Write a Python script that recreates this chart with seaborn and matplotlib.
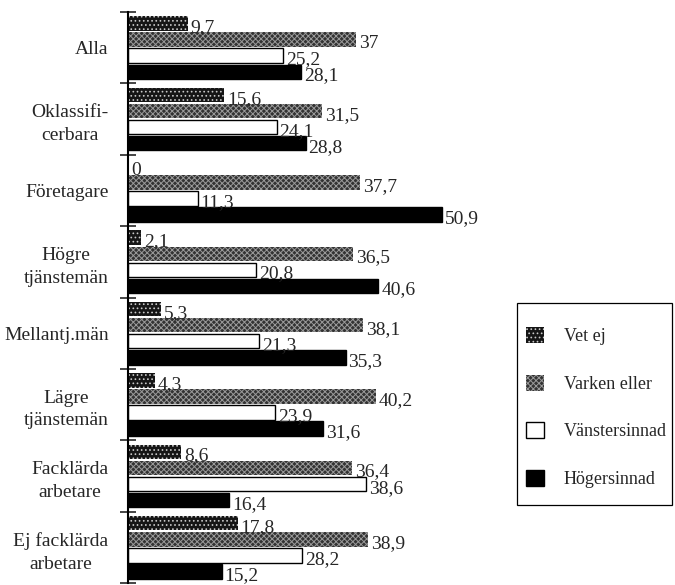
import numpy as np
import pandas as pd
import matplotlib
matplotlib.use("Agg")
import matplotlib.pyplot as plt
from matplotlib.patches import Rectangle
import seaborn as sns

# Kategorier och värden (procent)
kategorier = ['Alla', 'Oklassifi-\ncerbara', 'Företagare', 'Högre\ntjänstemän',
              'Mellantj.män', 'Lägre\ntjänstemän', 'Facklärda\narbetare',
              'Ej facklärda\narbetare']
serier = ['Vet ej', 'Varken eller', 'Vänstersinnad', 'Högersinnad']

vet_ej = [9.7, 15.6, 0, 2.1, 5.3, 4.3, 8.6, 17.8]
varken_eller = [37, 31.5, 37.7, 36.5, 38.1, 40.2, 36.4, 38.9]
vanster = [25.2, 24.1, 11.3, 20.8, 21.3, 23.9, 38.6, 28.2]
hoger = [28.1, 28.8, 50.9, 40.6, 35.3, 31.6, 16.4, 15.2]

varden = [vet_ej, varken_eller, vanster, hoger]

rows = []
for s, v in zip(serier, varden):
    for k, x in zip(kategorier, v):
        rows.append({'Kategori': k, 'Grupp': s, 'Procent': x})
df = pd.DataFrame(rows)

sns.set_style('white')
plt.rcParams['font.family'] = 'serif'
plt.rcParams['font.serif'] = ['Liberation Serif', 'Times New Roman', 'DejaVu Serif']
plt.rcParams['hatch.linewidth'] = 0.7

fig = plt.figure(figsize=(6.75, 5.85), dpi=100)
ax = fig.add_axes([128 / 675, 1 - 583 / 585, 370 / 675, 571 / 585])

sns.barplot(data=df, y='Kategori', x='Procent', hue='Grupp', orient='h',
            hue_order=serier, order=kategorier, width=0.9, gap=0.1,
            palette=['#222222', '#555555', 'white', 'black'],
            legend=False, ax=ax)

# mönster: (fyllning, mönsterfärg, hatch, kantbredd)
stilar = [('#151515', '#c8c8c8', '....', 0),
          ('#333333', '#9a9a9a', 'xxxxxx', 0),
          ('white', 'black', None, 1.0),
          ('black', 'black', None, 1.0)]
for cont, (fc, ec, h, lw) in zip(ax.containers, stilar):
    for p in cont.patches:
        p.set_facecolor(fc)
        p.set_edgecolor(ec)
        p.set_linewidth(lw)
        if h:
            p.set_hatch(h)

for cont, v in zip(ax.containers, varden):
    etiketter = [f"{x:g}".replace('.', ',') for x in v]
    texter = ax.bar_label(cont, labels=etiketter, padding=2, fontsize=14)
    for t in texter:
        t.xyann = (2, -3)

ax.set_xlim(0, 60)
ax.set_ylim(7.5, -0.5)
ax.set_xticks([])
ax.set_xlabel('')
ax.set_ylabel('')

ax.set_yticks(np.arange(-0.5, 8, 1))
ax.set_yticklabels([])
ax.set_yticks(range(len(kategorier)), labels=kategorier, minor=True)
ax.tick_params(axis='y', which='major', direction='inout', length=12, width=1.2, left=True)
ax.tick_params(axis='y', which='minor', length=0, pad=14, labelsize=14)
for t in ax.get_yticklabels(minor=True):
    t.set_multialignment('center')
    t.set_linespacing(1.45)

for s in ['top', 'right', 'bottom']:
    ax.spines[s].set_visible(False)
ax.spines['left'].set_linewidth(1.5)
ax.spines['left'].set_color('black')

# legend-ram
fig.patches.append(Rectangle((517 / 675, 1 - 505 / 585), 155 / 675, 202 / 585,
                             transform=fig.transFigure, fill=False,
                             edgecolor='black', linewidth=0.9))
leg = fig.legend(ax.containers, serier, loc='upper left',
                 bbox_to_anchor=(526 / 675, 1 - 327 / 585), fontsize=13,
                 frameon=False, handlelength=1.0, handleheight=1.0,
                 labelspacing=1.62, borderpad=0, handletextpad=1.1,
                 borderaxespad=0)

fig.savefig('out.png', dpi=100)
